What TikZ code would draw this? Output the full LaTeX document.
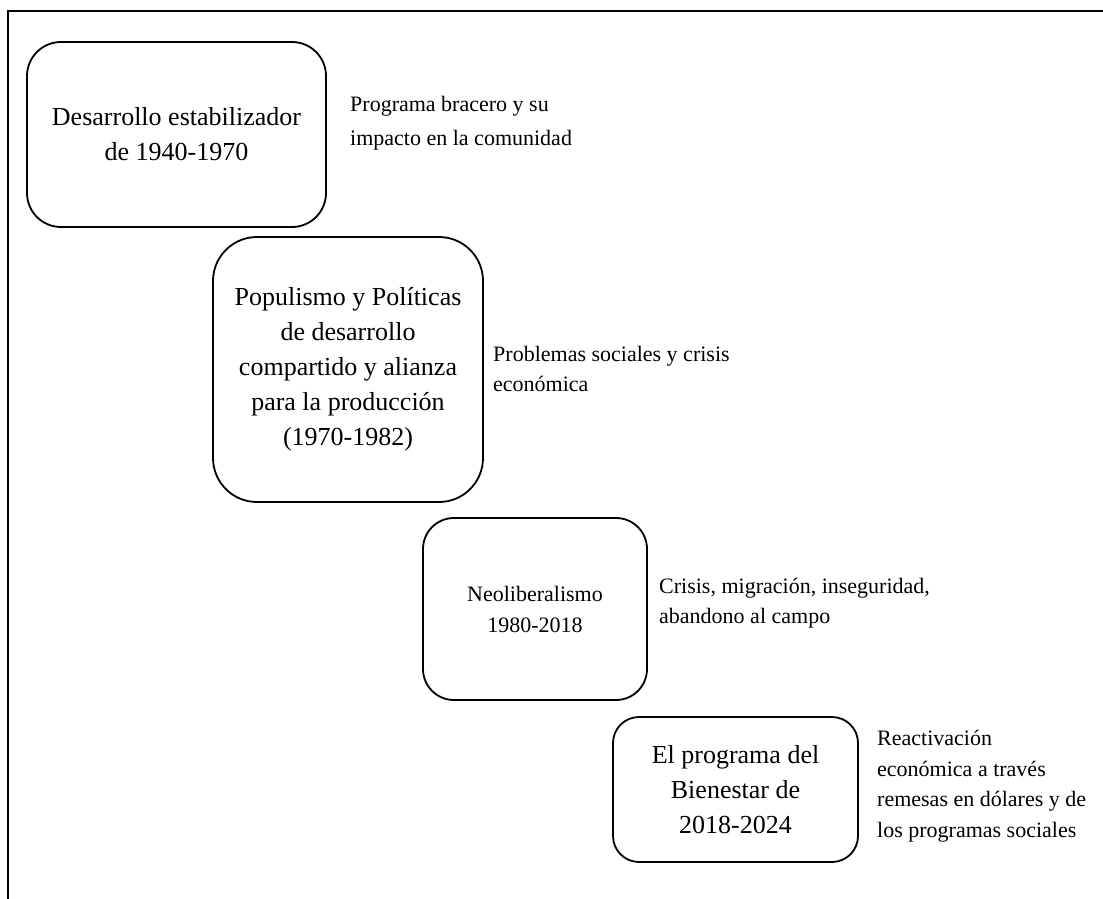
\documentclass[tikz,border=0pt]{standalone}
\usepackage{fontspec}
\setmainfont{Liberation Serif}
\begin{document}
\begin{tikzpicture}[x=1pt,y=-1pt,
  period/.style={draw=black, line width=1.8pt, align=center, inner sep=0pt,
    font=\fontsize{26}{35}\selectfont},
  smallperiod/.style={period, font=\fontsize{22}{31}\selectfont},
  note/.style={anchor=west, align=left, inner sep=0pt,
    font=\fontsize{22}{30.5}\selectfont}]
\useasboundingbox (0,0) rectangle (1103,899);
\coordinate (fa) at (8,899);
\coordinate (fb) at (8,11);
\coordinate (fc) at (1103,11);
\draw[line width=2.8pt] (fa) -- (fb) -- (fc);

\node[period, minimum width=299pt, minimum height=185pt, rounded corners=34pt] (b1) at (176.5,134.5)
  {Desarrollo estabilizador\\de 1940-1970};
\node[period, minimum width=270pt, minimum height=265pt, rounded corners=44pt] (b2) at (348,369.5)
  {Populismo y Políticas\\de desarrollo\\compartido y alianza\\para la producción\\(1970-1982)};
\node[smallperiod, minimum width=224pt, minimum height=182pt, rounded corners=31pt] (b3) at (535,609)
  {Neoliberalismo\\1980-2018};
\node[period, minimum width=245pt, minimum height=145pt, rounded corners=26pt] (b4) at (735.5,789.5)
  {El programa del\\Bienestar de\\2018-2024};

\node[note, font=\fontsize{22}{34}\selectfont] (n1) at (350,123) {Programa bracero y su\\impacto en la comunidad};
\node[note] (n2) at (493,369) {Problemas sociales y crisis\\económica};
\node[note] (n3) at (659,603) {Crisis, migración, inseguridad,\\abandono al campo};
\node[note] (n4) at (877,786) {Reactivación\\económica a través\\remesas en dólares y de\\los programas sociales};
\end{tikzpicture}
\end{document}
